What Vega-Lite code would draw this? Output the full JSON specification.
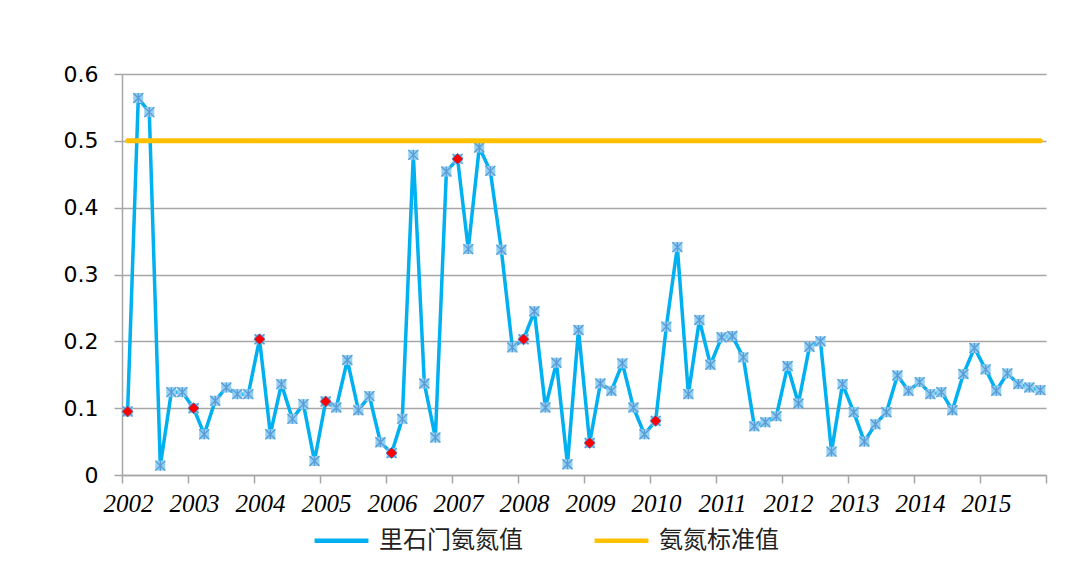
{
  "$schema": "https://vega.github.io/schema/vega-lite/v6.json",
  "width": 924,
  "height": 401,
  "autosize": {"type": "none"},
  "padding": {"left": 122, "top": 74, "right": 35, "bottom": 87},
  "background": "white",
  "config": {"view": {"stroke": null}},
  "data": {
    "values": [
      {"date": "2002-02-01", "value": 0.095, "first": true},
      {"date": "2002-04-01", "value": 0.564},
      {"date": "2002-06-01", "value": 0.543},
      {"date": "2002-08-01", "value": 0.014},
      {"date": "2002-10-01", "value": 0.124},
      {"date": "2002-12-01", "value": 0.124},
      {"date": "2003-02-01", "value": 0.1, "first": true},
      {"date": "2003-04-01", "value": 0.061},
      {"date": "2003-06-01", "value": 0.111},
      {"date": "2003-08-01", "value": 0.131},
      {"date": "2003-10-01", "value": 0.121},
      {"date": "2003-12-01", "value": 0.121},
      {"date": "2004-02-01", "value": 0.203, "first": true},
      {"date": "2004-04-01", "value": 0.061},
      {"date": "2004-06-01", "value": 0.136},
      {"date": "2004-08-01", "value": 0.084},
      {"date": "2004-10-01", "value": 0.106},
      {"date": "2004-12-01", "value": 0.021},
      {"date": "2005-02-01", "value": 0.11, "first": true},
      {"date": "2005-04-01", "value": 0.101},
      {"date": "2005-06-01", "value": 0.172},
      {"date": "2005-08-01", "value": 0.097},
      {"date": "2005-10-01", "value": 0.118},
      {"date": "2005-12-01", "value": 0.049},
      {"date": "2006-02-01", "value": 0.033, "first": true},
      {"date": "2006-04-01", "value": 0.084},
      {"date": "2006-06-01", "value": 0.479},
      {"date": "2006-08-01", "value": 0.137},
      {"date": "2006-10-01", "value": 0.056},
      {"date": "2006-12-01", "value": 0.454},
      {"date": "2007-02-01", "value": 0.473, "first": true},
      {"date": "2007-04-01", "value": 0.338},
      {"date": "2007-06-01", "value": 0.49},
      {"date": "2007-08-01", "value": 0.455},
      {"date": "2007-10-01", "value": 0.337},
      {"date": "2007-12-01", "value": 0.191},
      {"date": "2008-02-01", "value": 0.203, "first": true},
      {"date": "2008-04-01", "value": 0.245},
      {"date": "2008-06-01", "value": 0.101},
      {"date": "2008-08-01", "value": 0.168},
      {"date": "2008-10-01", "value": 0.016},
      {"date": "2008-12-01", "value": 0.217},
      {"date": "2009-02-01", "value": 0.048, "first": true},
      {"date": "2009-04-01", "value": 0.137},
      {"date": "2009-06-01", "value": 0.126},
      {"date": "2009-08-01", "value": 0.167},
      {"date": "2009-10-01", "value": 0.101},
      {"date": "2009-12-01", "value": 0.061},
      {"date": "2010-02-01", "value": 0.081, "first": true},
      {"date": "2010-04-01", "value": 0.222},
      {"date": "2010-06-01", "value": 0.341},
      {"date": "2010-08-01", "value": 0.121},
      {"date": "2010-10-01", "value": 0.232},
      {"date": "2010-12-01", "value": 0.165},
      {"date": "2011-02-01", "value": 0.206},
      {"date": "2011-04-01", "value": 0.208},
      {"date": "2011-06-01", "value": 0.176},
      {"date": "2011-08-01", "value": 0.073},
      {"date": "2011-10-01", "value": 0.079},
      {"date": "2011-12-01", "value": 0.088},
      {"date": "2012-02-01", "value": 0.163},
      {"date": "2012-04-01", "value": 0.107},
      {"date": "2012-06-01", "value": 0.192},
      {"date": "2012-08-01", "value": 0.2},
      {"date": "2012-10-01", "value": 0.035},
      {"date": "2012-12-01", "value": 0.136},
      {"date": "2013-02-01", "value": 0.094},
      {"date": "2013-04-01", "value": 0.05},
      {"date": "2013-06-01", "value": 0.076},
      {"date": "2013-08-01", "value": 0.094},
      {"date": "2013-10-01", "value": 0.149},
      {"date": "2013-12-01", "value": 0.126},
      {"date": "2014-02-01", "value": 0.139},
      {"date": "2014-04-01", "value": 0.121},
      {"date": "2014-06-01", "value": 0.124},
      {"date": "2014-08-01", "value": 0.097},
      {"date": "2014-10-01", "value": 0.151},
      {"date": "2014-12-01", "value": 0.19},
      {"date": "2015-02-01", "value": 0.158},
      {"date": "2015-04-01", "value": 0.126},
      {"date": "2015-06-01", "value": 0.152},
      {"date": "2015-08-01", "value": 0.136},
      {"date": "2015-10-01", "value": 0.131},
      {"date": "2015-12-01", "value": 0.127}
    ]
  },
  "encoding": {
    "x": {
      "field": "date",
      "type": "temporal",
      "scale": {
        "type": "utc",
        "domain": [
          {"year": 2002, "month": 1, "date": 1, "utc": true},
          {"year": 2016, "month": 1, "date": 1, "utc": true}
        ]
      },
      "axis": {
        "title": null,
        "grid": false,
        "values": [
          {"year": 2002, "utc": true}, {"year": 2003, "utc": true}, {"year": 2004, "utc": true},
          {"year": 2005, "utc": true}, {"year": 2006, "utc": true}, {"year": 2007, "utc": true},
          {"year": 2008, "utc": true}, {"year": 2009, "utc": true}, {"year": 2010, "utc": true},
          {"year": 2011, "utc": true}, {"year": 2012, "utc": true}, {"year": 2013, "utc": true},
          {"year": 2014, "utc": true}, {"year": 2015, "utc": true}, {"year": 2016, "utc": true}
        ],
        "format": "%Y",
        "labelExpr": "utcyear(datum.value) < 2016 ? utcFormat(datum.value, '%Y') : ''",
        "labelOffset": 6,
        "labelFont": "Liberation Serif",
        "labelFontStyle": "italic",
        "labelFontSize": 25,
        "labelColor": "#000000",
        "labelPadding": 8,
        "labelFlush": false,
        "labelOverlap": false,
        "tickSize": 8,
        "tickColor": "#a6a6a6",
        "tickWidth": 1.5,
        "domainColor": "#a6a6a6",
        "domainWidth": 1.5
      }
    }
  },
  "layer": [
    {
      "mark": {"type": "line", "strokeWidth": 3.5, "strokeJoin": "round"},
      "encoding": {
        "y": {
          "field": "value",
          "type": "quantitative",
          "scale": {"domain": [0, 0.6], "nice": false, "zero": true},
          "axis": {
            "title": null,
            "values": [0, 0.1, 0.2, 0.3, 0.4, 0.5, 0.6],
            "format": ".1~f",
            "labelFont": "DejaVu Sans",
            "labelFontSize": 22,
            "labelColor": "#000000",
            "labelPadding": 16,
            "tickSize": 8,
            "tickColor": "#a6a6a6",
            "tickWidth": 1.5,
            "domainColor": "#a6a6a6",
            "domainWidth": 1.5,
            "grid": true,
            "gridColor": "#a6a6a6",
            "gridWidth": 1.3
          }
        },
        "color": {
          "datum": "里石门氨氮值",
          "type": "nominal",
          "scale": {"domain": ["里石门氨氮值", "氨氮标准值"], "range": ["#00b0f0", "#ffc000"]},
          "legend": {
            "orient": "none",
            "legendX": 190,
            "legendY": 437,
            "direction": "horizontal",
            "title": null,
            "symbolType": "stroke",
            "symbolSize": 2900,
            "symbolStrokeWidth": 4.5,
            "labelFont": "Noto Sans CJK SC",
            "labelFontSize": 24,
            "labelColor": "#222222",
            "labelOffset": 8,
            "columnPadding": 62,
            "labelLimit": 400
          }
        }
      }
    },
    {
      "mark": {"type": "point", "shape": "square", "filled": true, "size": 100, "color": "#8fd0f3", "opacity": 1},
      "encoding": {"y": {"field": "value", "type": "quantitative"}}
    },
    {
      "mark": {"type": "point", "shape": "M-1,-1L1,1M-1,1L1,-1M0,-1L0,1", "filled": false, "size": 100, "stroke": "#5b9bd5", "strokeWidth": 1.3, "opacity": 1},
      "encoding": {"y": {"field": "value", "type": "quantitative"}}
    },
    {
      "transform": [{"filter": {"field": "first", "equal": true}}],
      "mark": {"type": "point", "shape": "diamond", "filled": true, "size": 120, "fill": "#ff0000", "stroke": "#4a6fb5", "strokeWidth": 0.8, "opacity": 1},
      "encoding": {"y": {"field": "value", "type": "quantitative"}}
    },
    {
      "mark": {"type": "line", "strokeWidth": 5, "strokeCap": "round"},
      "encoding": {
        "y": {"datum": 0.5},
        "color": {"datum": "氨氮标准值", "type": "nominal"}
      }
    }
  ]
}
